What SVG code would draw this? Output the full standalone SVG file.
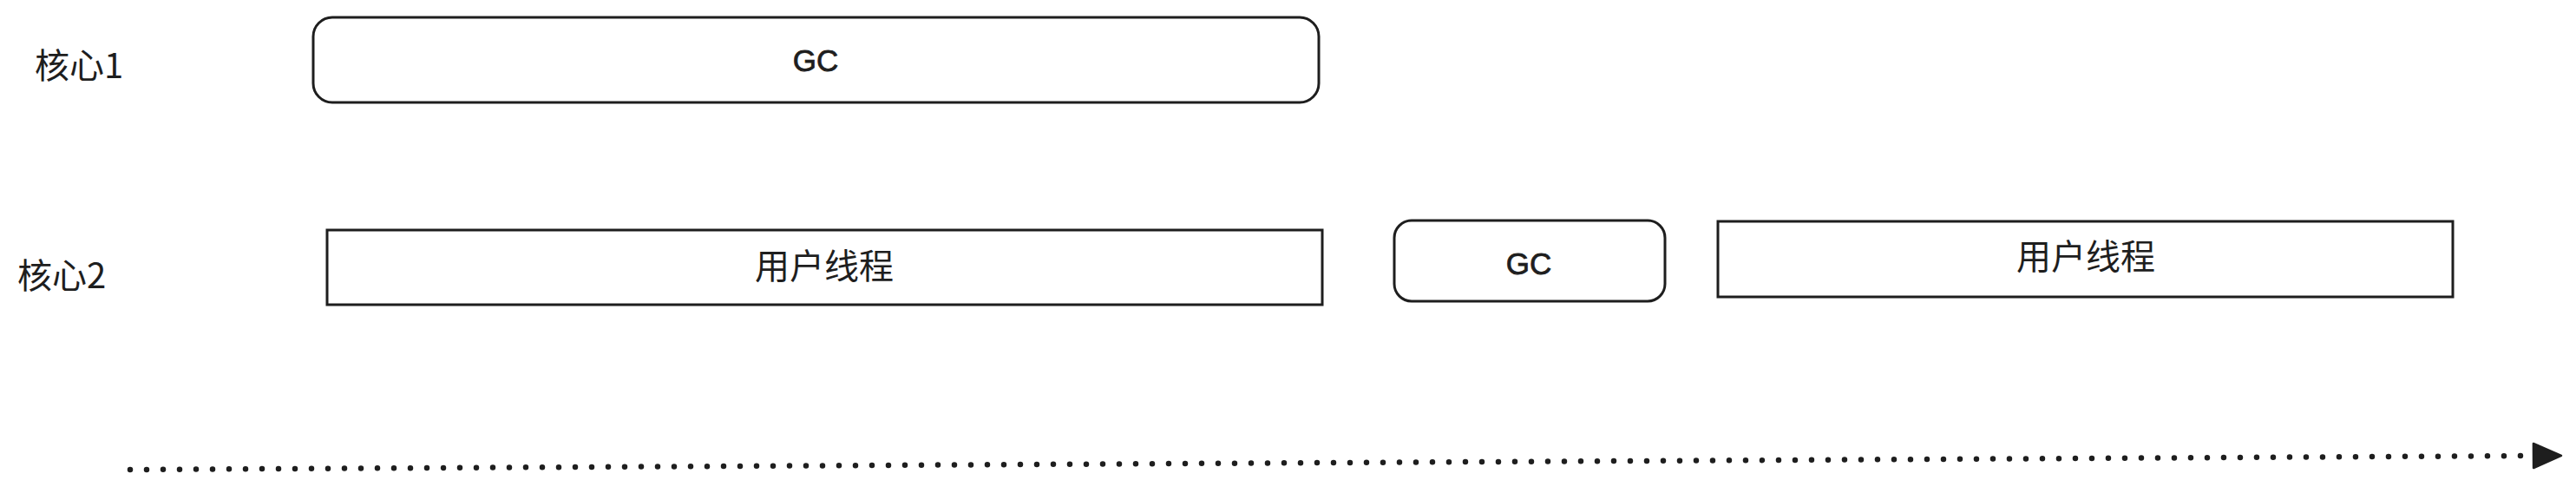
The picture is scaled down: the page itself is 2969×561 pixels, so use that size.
<svg xmlns="http://www.w3.org/2000/svg" width="2969" height="561" viewBox="0 0 2969 561">
<style>
  .box { fill: #ffffff; stroke: #1e1e1e; stroke-width: 3; }
  .cjk { font-family: "Noto Sans CJK SC", "Noto Sans", sans-serif; font-size: 40px; fill: #1e1e1e; }
  .gc { font-family: "Liberation Sans", Arial, sans-serif; font-size: 35px; fill: #1e1e1e; stroke: #1e1e1e; stroke-width: 0.8; text-anchor: middle; }
  .mid { text-anchor: middle; }
  .timeline { fill: none; stroke: #1e1e1e; stroke-width: 6.5; stroke-linecap: round; stroke-dasharray: 0 19; }
</style>
<defs>
  <marker id="arrowhead" markerUnits="userSpaceOnUse" viewBox="0 0 36 32" refX="2" refY="16" markerWidth="36" markerHeight="32" orient="auto">
    <path d="M2,2 L34,16 L2,30 Z" fill="#1e1e1e" stroke="#1e1e1e" stroke-width="2.5" stroke-linejoin="round"/>
  </marker>
</defs>
<rect width="2969" height="561" fill="#ffffff"/>

<g id="label-core1">
  <text class="cjk" x="40" y="90">核心1</text>
</g>
<g id="label-core2">
  <text class="cjk" x="20" y="332">核心2</text>
</g>

<g id="node-gc1">
  <rect class="box" x="361" y="20" width="1159" height="98" rx="22" ry="22"/>
  <text class="gc" x="940" y="82">GC</text>
</g>

<g id="node-user1">
  <rect class="box" x="377" y="265" width="1147" height="86"/>
  <text class="cjk mid" x="950" y="321">用户线程</text>
</g>

<g id="node-gc2">
  <rect class="box" x="1607" y="254" width="312" height="93" rx="20" ry="20"/>
  <text class="gc" x="1762" y="316">GC</text>
</g>

<g id="node-user2">
  <rect class="box" x="1980" y="255" width="847" height="87"/>
  <text class="cjk mid" x="2404" y="310">用户线程</text>
</g>

<g id="connectors">
  <path class="timeline" d="M150,541 L2920,525" marker-end="url(#arrowhead)"/>
</g>
</svg>
